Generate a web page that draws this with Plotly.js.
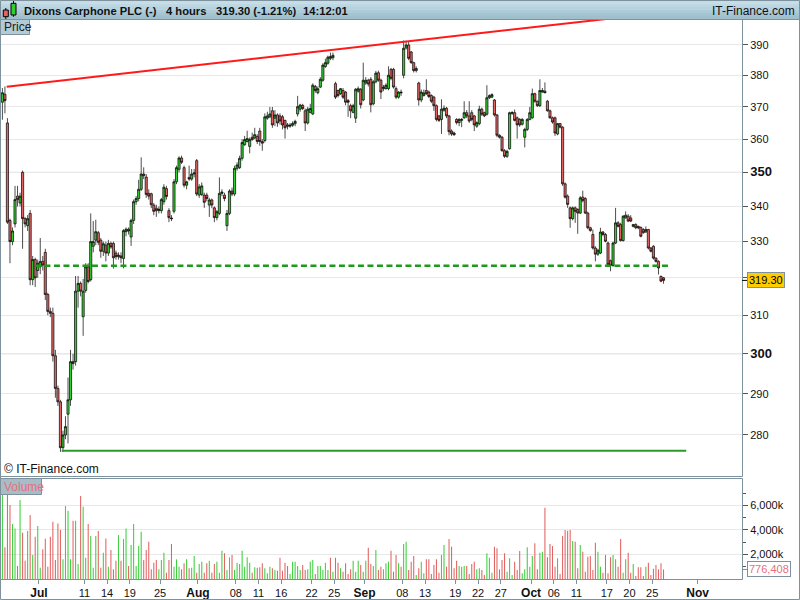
<!DOCTYPE html>
<html><head><meta charset="utf-8">
<script src="https://cdn.plot.ly/plotly-3.0.1.min.js"></script>
<style>html,body{margin:0;padding:0;background:#fff}#chart{width:800px;height:600px}</style>
</head><body><div id="chart"></div>
<script>
// ---- DATA: 4-hour bars, Dixons Carphone PLC (index 0 = first bar shown) ----
const opens = [
371.5,374,365,336,330,335,343,341,350,336.5,
334.5,338,319.5,325,322,323,324.5,327,315.5,311,
310.5,299.5,291.3,288,277,280,285,288.5,298,298,
316.4,318.5,309.6,316.6,323,319.5,328.7,330.4,332.5,330.4,
327.3,329,326.8,329.5,329.5,326.8,325.8,326,325.3,332.8,
333.5,331.3,336,341.4,342.3,345,349.5,348.6,343.8,343.7,
340.4,339.5,338.8,338.8,341.4,345.2,338.8,336.7,338.6,347.2,
350.9,354.3,351.4,346.2,348.5,348,349.5,353.5,343.3,343.5,
343.3,343.3,340.4,341.9,339.6,336.8,338,343.8,343.3,334.5,
338,344.5,343.6,351.2,351.4,354.2,358.3,359.3,357.8,360.6,
360.4,360.8,362.5,359.3,359.6,366.5,366.9,368.8,366.5,367.5,
367.2,366.9,365.8,364.4,364,364.3,364.8,367.8,369.3,370.5,
368.8,365,368.3,367.8,376.5,374.5,376.3,378.5,382.9,384,
386.2,385.8,377.4,375.2,374.2,375.2,374.7,372,370.4,368.3,
366.5,375,375.6,372.2,377.6,378.5,378.8,371,378,380.9,
378.5,375.8,375.8,375.8,382,382,375.8,373.1,374.7,380.1,
389,390,387.7,384.2,381.6,377.6,372.2,373.6,375.2,374.7,
373.6,373.1,370.4,367.2,366.1,369,369.6,367.2,362.5,361.9,
366.1,365.1,365.8,366.6,368.2,367.2,368.2,367.2,364,364.8,
369.3,368.2,367.7,372.9,373.1,372.2,367.5,361.2,360.6,356.5,
354.8,357.1,368,368.2,366.6,366.1,364.6,360.6,363,366.1,
366.6,374.2,371.8,370.4,374.7,375,371.8,368.8,366.6,366.6,
361.6,364.8,363.7,346.6,343,339.6,336.5,339.6,339.1,338.1,
342.7,342.3,338.1,333.9,332,328.2,326.5,326.8,332.7,332,
329.6,324.7,323.4,329.6,335.3,334.8,330.3,336.7,337.2,336.7,
334.3,334.8,334.3,334,333.4,332.7,333.4,328.2,328.7,325.4,
324.5,320.4,320
];
const highs = [
376,376.5,366.5,336.5,334,346,346,344,350.5,337,
337.5,339,326,325.5,325,331,326,328,316,312,
312,301,292,288.5,281,284.5,294,301,300,320.5,
320.5,319,319.7,324,324,338,335.8,336.2,333,331,
330,330,330.5,330,330,327.5,327,327,333.5,334,
334,336.5,342,343,347.8,354.5,351.5,349.5,345,344,
341,340.5,340,342.5,346.5,346,339.5,337.5,348,352,
354.8,355,352,347.5,352,351,351,354,346.5,347,
344,344,342.5,342.3,340,339,348.5,345,344,339,
345,345.5,352,353,355,360,361,362.6,360.5,362,
363.5,361.5,363.5,360,368,368.5,370,370,369,368,
368,367.5,366,365,365,365.5,366,373.5,371,371,
369.5,370,371,377.5,377,376.5,379.5,384,385.5,386.5,
387.5,387.5,378,375.5,376,376,375,372.5,371,371,
376,376.5,376,384.2,379.5,379,379.5,378.5,381.5,381.6,
379,377,377.5,383,382.5,382.5,376.5,375,375.5,391.5,
391.4,391,388,384.5,383,378,375.5,375.5,378.8,375.2,
374,373.5,370.8,367.5,372.4,370.5,370,367.5,363,362.3,
366.5,366.5,366.5,371.8,369,371.8,369,367.5,365.5,370.4,
369.8,368.5,376.9,374,374.3,372.5,367.8,361.5,361,357,
356.8,368.5,368.7,369.2,367,366.5,366.5,363.5,366.5,370,
375.8,374.5,372,378.8,376,377.8,372.2,369.2,367,367,
365,365,364,347,343.5,340,340,340,339.5,343,
344.6,342.7,338.5,334.2,333.4,328.7,328,333.9,333,332.4,
330,325,330,339.6,335.8,335.3,337.5,338.6,337.8,337.5,
335,335.2,334.5,334.3,333.8,334.3,333.6,328.5,329,325.6,
324.8,320.6,320.2
];
const lows = [
366,368,335,324,329,334,340,340,328,334,
333,318,318,317.5,320,321,322,314,310,309.5,
298,289,287,276,276,279,278,287,296,297,
312,315,304.6,316,318.5,319,327,329,329,325.5,
326,324.5,326,328,322.5,325,325,324,322.6,331.5,
332,328.8,335,340.5,341.5,344.5,348,342.5,342,339.5,
337.5,337,338,338,340.5,342,335.5,335.8,338,346.5,
350,352.5,345.5,345,347.5,347.5,348.5,343,342.5,343,
339.6,341.5,337,339.5,335.5,336,337.5,343,341.5,333,
337.5,343,343,350.5,351,353.5,358,359,355.7,359.5,
360,358.5,358,356.5,359,366,366.5,363.5,364,363.8,
364.5,363,360.2,363,363.5,363.8,364,367,368.5,369,
362.5,364.5,368,367.5,374.5,374,376,378,382.5,383.5,
385,385,372.5,373,373.8,372.5,370.5,366.9,366.5,368,
365,374.5,369.5,371.8,377,376.5,368.3,370.5,377.5,378,
372.5,375,375.5,375.3,378.5,375.8,372.5,372.6,373.5,379.1,
388.5,385,383.8,381,381,370.4,371.5,373.3,373.8,372.8,
371.2,368.8,365.5,365.3,361.6,368.5,366.5,361.2,361,361,
364.5,364,363.7,366.3,366.5,365,365.5,362.5,363.5,364.3,
367.2,366.8,367.3,372.5,372.8,367,360.6,360.2,356.2,354.3,
354.3,356.8,367.5,365.5,360.2,363.8,364.2,357.5,362.5,365.8,
366.3,371.3,370,370,374.5,374.3,368.5,366.3,364.8,361,
361.2,363.3,346,342.3,339.6,333.9,336,335.3,332.2,337.8,
341.2,337.8,333.5,332.8,327.8,324.5,326,326.5,331.5,329.8,
323.2,321.8,323,329.3,334,330,330,336.5,335.5,335.5,
334,333.5,333.5,331.2,332.2,332.5,327.8,327,325,324.2,
320.9,318.8,318.4
];
const closes = [
374.5,372,335.5,330,333,342,342,343,336.5,335,
336.5,319.5,325,320,324,324.5,323.5,315.5,311,310.5,
299.5,291.3,288,277,280,282,288.5,298,297.5,316.4,
318.5,316.4,316.4,323,319,330,330,332.8,329.8,327.3,
329.4,326.8,329.5,328.5,325.5,325.8,326.2,325.5,333.1,333.5,
333,336,341.4,342.3,345,349.5,349,343.5,343,340.5,
338.6,338.8,339.2,342,345.6,342.9,336.8,336.5,347.2,351.4,
354.3,353,346.2,347.2,348,349.5,349.8,343.6,345.7,346,
341.2,342.3,341.9,340.4,336.8,338.5,343.8,344.2,342.3,338,
344.5,343.6,351.2,352.2,354.2,359,359.9,360.2,359.9,359.9,
361.4,359.3,359.3,358.8,366.9,367.2,367.8,364.4,367.5,365,
365.6,364.4,363.5,364,364.3,364.8,365.5,370.1,370.6,369.5,
365,369.3,369.5,376.9,375.2,375.8,378.8,383.4,384.2,386,
385.6,386.6,373.1,373.6,375.8,373.1,371.5,371.5,368.8,370.4,
375.6,375.8,370.7,378.5,378.5,377.3,370.7,378,380.8,378.5,
374.7,376.3,376.9,380.1,379.1,376.3,373.1,374.7,374.5,388.9,
390,385.6,384.2,381.6,382.3,372.2,374.7,374.4,374.2,373.3,
371.8,370.4,366.1,365.8,369.3,369.6,367.2,362.3,361.6,361.4,
365.1,366.1,366.1,368.2,367.2,365.6,366.1,364.4,365.1,369.3,
367.7,367.2,372.9,373.6,373.9,367.5,361.2,360.6,356.5,354.8,
356.3,368.2,368.2,365.8,364.4,364.4,366.1,363,366.1,368.2,
374.2,371.8,370.4,375.2,375.2,374.5,368.8,366.6,365.3,361.9,
364.8,363.7,346.6,342.7,340.6,336.5,339.6,338.6,338.1,342.5,
341.7,338.1,333.9,333.1,328.2,326.5,327.6,332.7,332,330.1,
323.6,323.4,329.6,335.3,334.3,330.3,337.2,337.5,335.8,335.8,
334.8,333.9,333.9,331.5,332.5,333.4,328.2,327.3,325.4,324.5,
322.7,319.1,319.3
];
// volume in thousands of shares
const volumes = [
6965,2575,6965,6016,4472,4119,1057,6423,3767,1490,
3902,5203,1951,3442,4309,921,2412,3279,1003,3442,
4661,1545,4526,3984,1599,5935,5556,1599,4743,4743,
1220,6748,5881,1734,4472,3496,921,3496,3902,921,
2141,3306,1003,2358,786,1491,3577,1491,3252,4119,
1057,2764,4472,1057,2683,3848,1545,2358,3035,786,
1328,1545,786,1545,2141,515,1545,2845,1003,1599,
1003,786,1274,1599,867,921,1870,515,1220,1409,
515,1274,1491,515,1220,1409,515,2304,2087,732,
1762,1951,732,1328,1220,2304,1003,1762,1328,515,
949,921,949,1274,867,461,1003,867,732,678,
1734,678,1328,1057,407,1409,1409,1057,732,1138,
732,786,1409,1545,407,1057,1057,732,1328,732,
1734,596,1734,1328,867,596,1274,407,786,1491,
596,1491,1138,596,1491,2547,1220,1057,2358,732,
1003,786,1274,1409,2304,596,1951,1274,
1003,2845,3035,732,1409,1870,325,867,1409,461,
1599,1599,407,1138,1599,515,1951,2764,1003,3252,
2629,867,1491,1057,1003,1057,1057,407,1220,1409,
786,867,732,325,2087,1734,515,2629,2493,786,
1545,2087,596,1680,325,1409,732,2276,461,786,
2575,1003,1870,2900,786,2141,2222,5800,1762,2845,
2683,1003,1680,407,3496,3984,3930,3984,3089,3035,
867,2764,2222,596,1816,1870,732,2954,2222,1003,
515,1951,461,1762,1951,1599,1003,3252,515,1599,
2141,515,1220,244,949,949,244,1003,1328,325,
840,1138,786,1274,776.408
];
// x-axis ticks: trading-day number (3 bars per day) and label
const tickDays   = [5,11,14,17,21,26,31,34,37,41,44,48,53,56,60,63,66,70,73,76,80,83,86,92];
const tickLabels = ['Jul','11','14','19','25','Aug','08','11','16','22','25','Sep','08','13','19','22','27','Oct','06','11','17','20','25','Nov'];
const monthLabels = ['Jul','Aug','Sep','Oct','Nov'];
const priceTicks = [280,290,300,310,320,330,340,350,360,370,380,390];
const priceTickLabels = ['280','290','300','310','','330','340','350','360','370','380','390'];
const boldPriceTicks = [300,350];
const volTicks = [2000,4000,6000];
const volTickLabels = ['2,000k','4,000k','6,000k'];
const volMinorTicks = [1000,3000,5000,7000];
// drawn lines (bar index, price)
const resistanceBars = [1.7, 250];
const resistancePrices = [376.4, 399.75];
const supportBars = [12.9, 263.8];
const supportPrices = [323.3, 323.3];
const lowBars = [23.5, 271];
const lowPrices = [276.3, 276.3];
const titleName = 'Dixons Carphone PLC (-)';
const titlePeriod = '4 hours';
const lastPrice = 319.30;
const lastChangePct = -1.21;
const lastTime = '14:12:01';
const lastVolume = 776408;

// ---- STYLE / LAYOUT ----
const FONT = 'Liberation Sans, Arial, sans-serif';
const UP = '#33cc33', DOWN = '#e26464', FRAME = '#7d929c';
const W = 800, H = 600, ML = 1, MR = 58, MT = 20, MB = 21;
const PX = x => (x - ML) / (W - ML - MR);
const PY = y => (H - MB - y) / (H - MT - MB);

const idx = opens.map((_, i) => i);
const volColors = closes.map((c, i) => c >= opens[i] ? '#3fcf3f' : '#e36363');

const traces = [
  {type:'bar', x: idx, y: volumes, xaxis:'x', yaxis:'y2', width:0.42,
   marker:{color: volColors, line:{width:0}}, hoverinfo:'skip', showlegend:false},
  {type:'candlestick', x: idx, open: opens, high: highs, low: lows, close: closes,
   xaxis:'x', yaxis:'y', whiskerwidth:0,
   increasing:{fillcolor: UP, line:{color:'#000', width:0.7}},
   decreasing:{fillcolor: DOWN, line:{color:'#000', width:0.7}},
   hoverinfo:'skip', showlegend:false},
  {type:'scatter', mode:'lines', x: resistanceBars, y: resistancePrices, xaxis:'x', yaxis:'y',
   line:{color:'#ff1a1a', width:2}, hoverinfo:'skip', showlegend:false},
  {type:'scatter', mode:'lines', x: supportBars, y: supportPrices, xaxis:'x', yaxis:'y',
   line:{color:'#1f9a1f', width:2.5, dash:'6px,3.5px'}, hoverinfo:'skip', showlegend:false},
  {type:'scatter', mode:'lines', x: lowBars, y: lowPrices, xaxis:'x', yaxis:'y',
   line:{color:'#2a9a2a', width:2}, hoverinfo:'skip', showlegend:false}
];

const xTickVals = tickDays.map(d => 3 * d - 0.5);
const xTickText = tickLabels.map(t => monthLabels.includes(t) ? '<b><span style="font-size:12px">' + t + '</span></b>' : t);
const yTickText = priceTicks.map((v, i) => boldPriceTicks.includes(v) ? '<b><span style="font-size:13px">' + priceTickLabels[i] + '</span></b>' : priceTickLabels[i]);

const shapes = [];
// header gradient bands
const bands = ['#c6dde7','#bed8e3','#b6d2de','#aecbd8','#a6c5d3','#9fbfcd'];
bands.forEach((c, k) => {
  const y0 = k * 19 / bands.length, y1 = (k + 1) * 19 / bands.length + 0.3;
  shapes.push({type:'rect', xref:'paper', yref:'paper', x0:PX(0), x1:PX(800), y0:PY(y1), y1:PY(y0),
    fillcolor:c, line:{width:0}, layer:'above'});
});
shapes.push({type:'line', xref:'paper', yref:'paper', x0:PX(0), x1:PX(800), y0:PY(19.5), y1:PY(19.5), line:{color:FRAME, width:1}});
// header icon (two small candles)
shapes.push({type:'line', xref:'paper', yref:'paper', x0:PX(5.8), x1:PX(5.8), y0:PY(19), y1:PY(8), line:{color:'#000', width:1}});
shapes.push({type:'rect', xref:'paper', yref:'paper', x0:PX(3.3), x1:PX(8.3), y0:PY(16.7), y1:PY(10), fillcolor:DOWN, line:{color:'#000', width:1}});
shapes.push({type:'line', xref:'paper', yref:'paper', x0:PX(13.5), x1:PX(13.5), y0:PY(16.7), y1:PY(1), line:{color:'#000', width:1}});
shapes.push({type:'rect', xref:'paper', yref:'paper', x0:PX(11), x1:PX(16), y0:PY(15), y1:PY(3.3), fillcolor:UP, line:{color:'#000', width:1}});
// darker grid lines for major price levels
boldPriceTicks.forEach(v => shapes.push({type:'line', xref:'paper', yref:'y', x0:0, x1:1, y0:v, y1:v,
  line:{color:'#cfcfcf', width:1}, layer:'below'}));
// panel frames
shapes.push({type:'rect', xref:'paper', yref:'paper', x0:PX(0.5), x1:PX(742.5), y0:PY(476.5), y1:PY(19.5), line:{color:FRAME, width:1}});
shapes.push({type:'rect', xref:'paper', yref:'paper', x0:PX(0.5), x1:PX(742.5), y0:PY(579.5), y1:PY(478.5), line:{color:FRAME, width:1}});
shapes.push({type:'rect', xref:'paper', yref:'paper', x0:PX(0.5), x1:PX(799.5), y0:PY(599.5), y1:PY(0.5), line:{color:FRAME, width:1}});
// label boxes
shapes.push({type:'rect', xref:'paper', yref:'paper', x0:PX(0.5), x1:PX(29.5), y0:PY(34.5), y1:PY(19.5), fillcolor:'#b3cbd6', line:{color:FRAME, width:1}});
shapes.push({type:'rect', xref:'paper', yref:'paper', x0:PX(0.5), x1:PX(41.5), y0:PY(494.5), y1:PY(478.5), fillcolor:'#a6bdc8', line:{color:FRAME, width:1}});
// markers on axis for last values
shapes.push({type:'line', xref:'paper', yref:'y', x0:PX(742), x1:PX(747), y0:lastPrice, y1:lastPrice, line:{color:'#000', width:1}});
shapes.push({type:'line', xref:'paper', yref:'y2', x0:PX(742), x1:PX(747), y0:lastVolume/1000, y1:lastVolume/1000, line:{color:'#e36363', width:1}});

const ann = (text, x, y, opts) => Object.assign({text, xref:'paper', yref:'paper', x:PX(x), y:PY(y),
  xanchor:'left', yanchor:'middle', showarrow:false, font:{family:FONT, size:12, color:'#111'}}, opts || {});
const HF = {family:FONT, size:11.2, color:'#111'};

const annotations = [
  ann('<b>' + titleName + '</b>', 22, 10.5, {font:HF}),
  ann('<b>' + titlePeriod + '</b>', 164, 10.5, {font:HF}),
  ann('<b>' + lastPrice.toFixed(2) + ' (' + lastChangePct.toFixed(2) + '%)</b>', 214, 10.5, {font:HF}),
  ann('<b>' + lastTime + '</b>', 301, 10.5, {font:HF}),
  ann('IT-Finance.com', 797, 10.5, {xanchor:'right', font:{family:FONT, size:12, color:'#111'}}),
  ann('Price', 1.5, 27, {font:{family:FONT, size:12, color:'#1a1a2a'}}),
  ann('Volume', 1.5, 486.5, {font:{family:FONT, size:12, color:'#e8707a'}}),
  ann('© IT-Finance.com', 1.5, 469, {font:{family:FONT, size:12, color:'#111'}}),
  {text: lastPrice.toFixed(2), xref:'paper', yref:'y', x:PX(747), y:Math.log10(lastPrice), xanchor:'left', yanchor:'middle',
   showarrow:false, bgcolor:'#ffcc00', bordercolor:FRAME, borderwidth:1, borderpad:1, font:{family:FONT, size:11, color:'#000'}},
  {text: lastVolume.toLocaleString('en-US'), xref:'paper', yref:'y2', x:PX(747), y:lastVolume/1000, xanchor:'left', yanchor:'middle',
   showarrow:false, bgcolor:'#ffffff', bordercolor:FRAME, borderwidth:1, borderpad:1, font:{family:FONT, size:11, color:'#e8707a'}}
];

const layout = {
  width: W, height: H, margin:{l:ML, r:MR, t:MT, b:MB, pad:0},
  paper_bgcolor:'#fff', plot_bgcolor:'#fff', showlegend:false, hovermode:false,
  font:{family:FONT, size:11, color:'#111'},
  boxgap:0.15, boxgroupgap:0,
  xaxis:{range:[-0.555, 293.1], anchor:'y2', tickvals:xTickVals, ticktext:xTickText, ticks:'outside', ticklen:4,
    tickcolor:FRAME, showgrid:false, zeroline:false, showline:false, tickangle:0,
    rangeslider:{visible:false}, tickfont:{family:FONT, size:11, color:'#111'}},
  yaxis:{type:'log', range:[Math.log10(270.41), Math.log10(398.37)], domain:[PY(476), 1], anchor:'x', side:'right',
    tickvals:priceTicks, ticktext:yTickText, ticks:'outside', ticklen:5, tickcolor:'#555',
    showgrid:true, gridcolor:'#e8e8e8', zeroline:false, showline:false, tickfont:{family:FONT, size:11, color:'#111'}},
  yaxis2:{range:[0, 8140], domain:[0, PY(479)], anchor:'x', side:'right',
    tickvals:volTicks, ticktext:volTickLabels, ticks:'outside', ticklen:5, tickcolor:'#555',
    minor:{tickvals:volMinorTicks, ticks:'outside', ticklen:3, tickcolor:'#555', showgrid:false},
    showgrid:true, gridcolor:'#e8e8e8', zeroline:false, showline:false, tickfont:{family:FONT, size:11, color:'#111'}},
  shapes, annotations
};

Plotly.newPlot('chart', traces, layout, {staticPlot:true, displayModeBar:false});
</script>
</body></html>
